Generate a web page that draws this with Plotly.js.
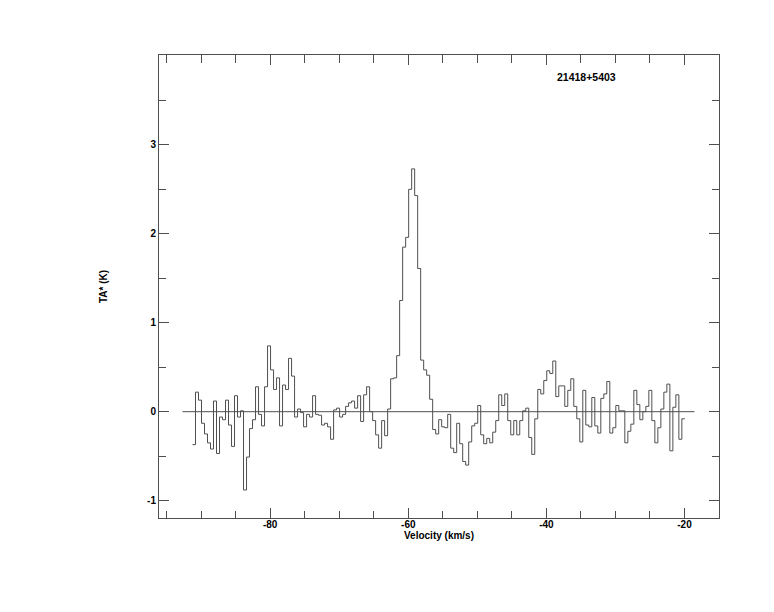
<!DOCTYPE html>
<html>
<head>
<meta charset="utf-8">
<script src="https://cdn.plot.ly/plotly-3.0.1.min.js"></script>
<style>
  html, body { margin: 0; padding: 0; background: #fff; }
  #chart { width: 774px; height: 612px; }
</style>
</head>
<body>
<div id="chart"></div>
<script>
// Spectrum axis (channel grid): first channel left edge and channel width, km/s
var velocityStart = -91.25;
var channelWidth = 0.4348;

// Antenna temperature TA* (K) per channel
var temperature = [
  -0.37, 0.22, 0.13, -0.13, -0.25, -0.35, -0.42, 0.12, -0.47, -0.06,
  -0.09, 0.13, -0.15, -0.39, 0.18, -0.06, 0.01, -0.88, -0.51, -0.19,
  -0.09, 0.28, -0.03, -0.16, 0.28, 0.74, 0.47, 0.25, 0.38, -0.16,
  0.30, 0.25, 0.60, 0.40, -0.06, 0.03, -0.01, -0.17, -0.03, -0.06,
  0.18, -0.03, -0.04, -0.15, -0.13, -0.17, -0.31, 0.02, 0.04, -0.06,
  -0.03, 0.06, 0.10, 0.12, 0.04, 0.18, -0.11, 0.19, 0.28, 0.00,
  -0.10, -0.26, -0.41, -0.10, -0.27, 0.03, 0.37, 0.38, 0.63, 1.25,
  1.85, 1.96, 2.50, 2.73, 2.43, 1.61, 0.58, 0.47, 0.41, 0.14,
  -0.20, -0.25, -0.09, -0.17, -0.18, -0.03, -0.41, -0.46, -0.13, -0.36,
  -0.56, -0.60, -0.34, -0.16, -0.13, 0.07, -0.26, -0.36, -0.30, -0.35,
  -0.23, -0.10, 0.19, 0.07, 0.20, -0.10, -0.26, -0.10, -0.26, -0.10,
  0.01, 0.04, -0.29, -0.48, -0.08, 0.25, 0.20, 0.35, 0.46, 0.43,
  0.57, 0.17, 0.29, 0.29, 0.06, 0.24, 0.37, 0.06, -0.08, -0.34,
  0.24, -0.15, -0.17, 0.16, -0.16, -0.24, 0.15, 0.20, 0.34, -0.24,
  -0.18, 0.07, 0.01, 0.01, -0.35, -0.22, -0.14, 0.24, 0.08, -0.09,
  0.00, 0.06, 0.24, -0.10, -0.35, -0.18, 0.03, 0.22, 0.31, -0.44,
  0.05, 0.19, -0.31, -0.08
];

// Baseline (zero level) extent, km/s
var baselineX = [-92.7, -18.55];
var baselineY = [0, 0];

// Axis ticks and labels
var xTickVals = [-80, -60, -40, -20];
var xTickText = ["-80", "-60", "-40", "-20"];
var yTickVals = [-1, 0, 1, 2, 3];
var yTickText = ["-1", "0", "1", "2", "3"];

var sourceName = "21418+5403";
var xTitle = "Velocity (km/s)";
var yTitle = "TA* (K)";

// Build channel edges for a step ('hv') drawing
var edges = [];
for (var i = 0; i <= temperature.length; i++) {
  edges.push(velocityStart + i * channelWidth);
}
var stepY = temperature.concat([temperature[temperature.length - 1]]);

var lineColor = "#4f4f4f";
var fontBold = { family: "Liberation Sans, Arial, sans-serif", size: 10, color: "#000", weight: "bold" };

var traces = [
  {
    x: baselineX, y: baselineY, type: "scatter", mode: "lines",
    line: { color: lineColor, width: 1 }, hoverinfo: "skip", showlegend: false
  },
  {
    x: edges, y: stepY, type: "scatter", mode: "lines",
    line: { color: lineColor, width: 1, shape: "hv" }, showlegend: false
  }
];

var axisCommon = {
  showgrid: false, zeroline: false, showline: true, linecolor: lineColor, linewidth: 1,
  mirror: "ticks", ticks: "inside", ticklen: 10, tickcolor: lineColor, tickwidth: 1,
  tickfont: fontBold
};

var layout = {
  width: 774, height: 612,
  margin: { l: 159.3, r: 55.3, t: 54.8, b: 93.7 },
  paper_bgcolor: "#fff", plot_bgcolor: "#fff",
  xaxis: Object.assign({}, axisCommon, {
    range: [-96.1, -15.0],
    tickmode: "array", tickvals: xTickVals, ticktext: xTickText,
    minor: { dtick: 5, tick0: 0, ticks: "inside", ticklen: 7.5, tickcolor: lineColor, tickwidth: 1 },
    ticklabelstandoff: -3,
    title: { text: xTitle, font: fontBold, standoff: 0 }
  }),
  yaxis: Object.assign({}, axisCommon, {
    range: [-1.195, 4.01],
    tickmode: "array", tickvals: yTickVals, ticktext: yTickText,
    minor: { dtick: 0.5, tick0: 0, ticks: "inside", ticklen: 7, tickcolor: lineColor, tickwidth: 1 },
    ticklabelstandoff: 0,
    title: { text: yTitle, font: fontBold, standoff: 37 }
  }),
  annotations: [
    {
      text: sourceName, xref: "paper", yref: "paper", x: 0.763, y: 0.953,
      xanchor: "center", yanchor: "middle", showarrow: false,
      font: { family: "Liberation Sans, Arial, sans-serif", size: 10.5, color: "#000", weight: "bold" }
    }
  ]
};

Plotly.newPlot("chart", traces, layout, { displayModeBar: false, staticPlot: true });
</script>
</body>
</html>
